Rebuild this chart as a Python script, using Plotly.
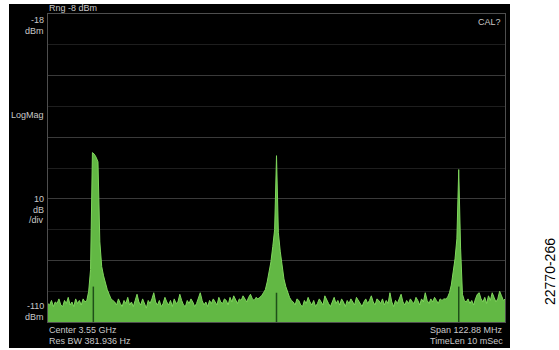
import plotly.graph_objects as go

# ---------------- data ----------------
center_mhz = 3550.0
span_mhz = 122.88
ref_top_dbm = -18.0
ref_bottom_dbm = -118.0

freq_start_mhz = 3488.5
bin_mhz = 0.5

noise_a = [-112.0,
           -112.5, -111.0, -113.0, -111.5, -112.0, -110.5, -112.5, -113.0, -111.0, -112.0,
           -110.0, -112.5, -111.5, -113.0, -110.5, -112.0, -111.0, -112.5, -110.5, -111.5]
peak_1 = [-111.0, -108.0, -101.0, -63.0, -63.5, -64.5, -66.0, -92.0, -100.0, -103.0,
          -105.5, -107.5, -109.0, -110.5, -111.0]
noise_b = [-111.5, -112.5, -110.5, -112.0, -113.0, -111.0, -112.0, -110.0, -112.5, -111.5,
           -113.0, -111.0, -109.0, -111.5, -112.5, -110.5, -112.0, -113.5, -111.0, -112.0,
           -110.5, -108.5, -111.5, -112.5, -111.0, -113.0, -112.0, -110.0, -111.5, -112.5,
           -111.0, -113.0, -110.5, -112.0, -111.5, -109.0, -111.0, -112.5, -113.0, -111.0,
           -112.0, -110.5, -111.5, -113.0, -112.0, -110.0, -108.5, -111.0, -112.5, -111.5,
           -113.0, -111.0, -112.0, -110.5, -111.5, -112.5, -110.0, -111.5, -112.0, -110.5,
           -111.0, -112.5, -110.0, -111.5, -109.5, -111.0, -112.0, -110.5, -111.0, -109.5,
           -110.5, -111.5, -110.0, -109.0, -110.5, -111.0, -110.0]
peak_2 = [-110.5, -110.0, -109.5, -108.5, -107.5, -105.0, -102.0, -98.5, -93.5, -88.0,
          -64.0, -89.0, -95.0, -99.5, -104.0, -106.5, -108.5, -110.0, -111.0]
noise_c = [-111.5, -112.5, -110.5, -111.0, -112.5, -113.0, -111.0, -112.0, -110.0, -111.5,
           -112.5, -111.0, -113.0, -112.0, -110.5, -111.5, -112.5, -109.5, -111.0, -112.0,
           -113.0, -111.5, -110.0, -112.0, -111.0, -112.5, -110.5, -111.5, -113.0, -111.0,
           -112.0, -110.5, -111.5, -112.5, -110.0, -111.0, -112.0, -113.0, -111.5, -110.5,
           -112.0, -111.0, -109.5, -111.5, -112.5, -110.5, -111.0, -112.0, -110.5, -112.5,
           -111.0, -112.0, -108.5, -111.5, -113.0, -111.0, -112.0, -110.5, -109.0, -111.5,
           -112.5, -111.0, -112.0, -110.5, -111.5, -112.0, -110.0, -111.0, -112.5, -110.5,
           -111.5, -108.5, -111.0, -112.0, -110.5, -111.5, -110.0, -111.0, -112.0, -110.5,
           -111.0, -110.5]
peak_3 = [-110.5, -110.0, -108.5, -106.0, -102.0, -97.5, -91.0, -68.5, -94.0, -109.0, -111.0]
noise_d = [-111.5, -110.5, -112.0, -111.0, -112.5, -110.5, -109.0, -108.5, -110.5, -111.5,
           -110.0, -112.0, -109.5, -111.0, -108.5, -110.0, -111.5, -110.5, -108.0, -109.5,
           -111.0, -110.5]

marker_freq_mhz = [3500.75, 3550.0, 3599.0]
marker_top_dbm = [-106.5, -108.5, -106.5]

level_dbm = noise_a + peak_1 + noise_b + peak_2 + noise_c + peak_3 + noise_d
freq_mhz = [freq_start_mhz + i * bin_mhz for i in range(len(level_dbm))]

# ---------------- layout helpers ----------------
W, H = 559, 350
PL, PR, PT, PB = 48, 505, 14, 322  # plot area pixel box


def px(x):
    return (x - PL) / (PR - PL)


def py(y):
    return (PB - y) / (PB - PT)


FONT = "Liberation Sans, Arial, sans-serif"
TXT = "#c9c9c9"

fig = go.Figure()

# baseline for fill
fig.add_trace(go.Scatter(x=[freq_mhz[0], freq_mhz[-1]], y=[ref_bottom_dbm - 5, ref_bottom_dbm - 5],
                         mode="lines", line=dict(width=0, color="rgba(0,0,0,0)"),
                         hoverinfo="skip", showlegend=False))
fig.add_trace(go.Scatter(x=freq_mhz, y=level_dbm, mode="lines",
                         line=dict(color="#7fd65c", width=1),
                         fill="tonexty", fillcolor="#62b844",
                         showlegend=False))

mx, my = [], []
for f, t in zip(marker_freq_mhz, marker_top_dbm):
    mx += [f, f, None]
    my += [ref_bottom_dbm, t, None]
fig.add_trace(go.Scatter(x=mx, y=my, mode="lines", line=dict(color="#1f4f19", width=1.5),
                         hoverinfo="skip", showlegend=False))

annots = []


def label(text, x, y, anchor="left", size=9, color=TXT):
    annots.append(dict(text=text, x=px(x), y=py(y), xref="paper", yref="paper",
                       xanchor=anchor, yanchor="middle", showarrow=False,
                       font=dict(family=FONT, size=size, color=color), borderpad=0))


label("Rng -8 dBm", 48, 8)
label("-18", 45, 20, "right")
label("dBm", 45, 31, "right")
label("CAL?", 502, 22, "right")
label("LogMag", 45, 115, "right")
label("10", 45, 199, "right")
label("dB", 45, 210, "right")
label("/div", 45, 220, "right")
label("-110", 45, 306, "right")
label("dBm", 45, 317, "right")
label("Center 3.55 GHz", 48, 330)
label("Res BW 381.936 Hz", 48, 341)
label("Span 122.88 MHz", 504, 330, "right")
label("TimeLen 10 mSec", 504, 341, "right")
annots.append(dict(text="22770-266", x=px(550), y=py(272), xref="paper", yref="paper",
                   xanchor="center", yanchor="middle", showarrow=False, textangle=-90,
                   font=dict(family=FONT, size=14, color="#000000")))

fig.update_layout(
    width=W, height=H,
    margin=dict(l=PL, r=W - PR, t=PT, b=H - PB, pad=0),
    paper_bgcolor="#ffffff",
    plot_bgcolor="#000000",
    annotations=annots,
    shapes=[dict(type="rect", xref="paper", yref="paper", layer="below",
                 x0=px(9), x1=px(510), y0=py(348), y1=py(4),
                 fillcolor="#000000", line=dict(width=0))],
    xaxis=dict(range=[center_mhz - span_mhz / 2, center_mhz + span_mhz / 2],
               showticklabels=False, ticks="", zeroline=False, showgrid=False,
               showline=True, mirror=True, linecolor="#4e4e4e", linewidth=1),
    yaxis=dict(range=[ref_bottom_dbm, ref_top_dbm],
               showticklabels=False, ticks="", zeroline=False,
               showgrid=True, dtick=20, tick0=-38, gridcolor="#3a3a3a", gridwidth=1,
               minor=dict(dtick=10, tick0=-28, showgrid=True, gridcolor="#1e1e1e"),
               showline=True, mirror=True, linecolor="#4e4e4e", linewidth=1),
)

fig.write_html("out.html", config={"displayModeBar": False},
               post_script="document.body.style.margin='0px';document.body.style.overflow='hidden';")
